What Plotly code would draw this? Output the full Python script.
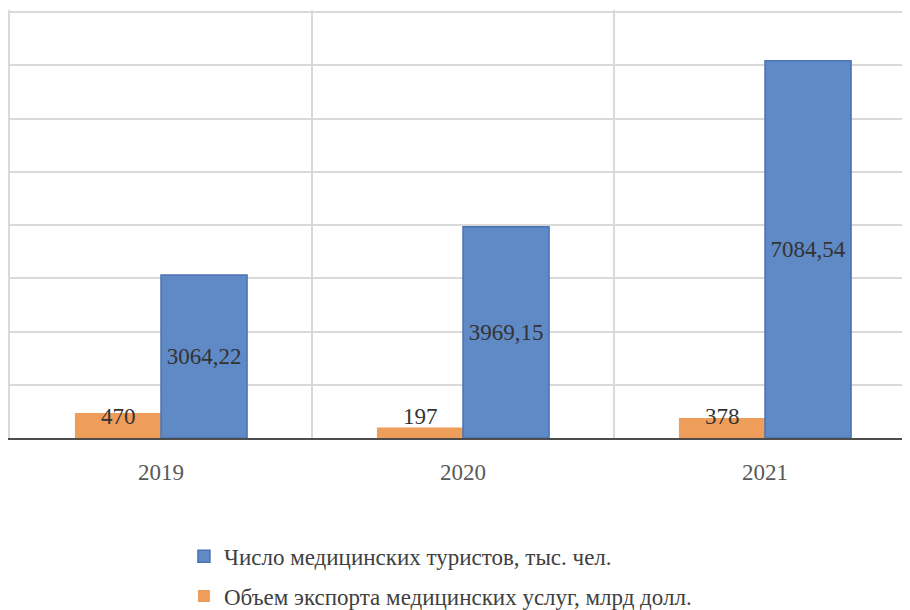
import plotly.graph_objects as go

years = ["2019", "2020", "2021"]
tourists = [3064.22, 3969.15, 7084.54]
exports = [470, 197, 378]
name_tourists = "Число медицинских туристов, тыс. чел."
name_exports = "Объем экспорта медицинских услуг, млрд долл."

BLUE = "#5F8AC6"
BLUE_EDGE = "#4A73B3"
ORANGE = "#EF9D5A"
GRID = "#D9D9D9"
TEXT = "#595959"
SERIF = "Liberation Serif, Times New Roman, serif"

fig = go.Figure()
fig.add_trace(go.Bar(
    x=years, y=exports, name=name_exports, legendgroup="b", legendrank=2,
    marker=dict(color=ORANGE, line=dict(width=0)),
))
fig.add_trace(go.Bar(
    x=years, y=tourists, name=name_tourists, legendgroup="a", legendrank=1,
    marker=dict(color=BLUE, line=dict(color=BLUE_EDGE, width=1.5)),
    text=[f"{v:.2f}".replace(".", ",") for v in tourists],
    textposition="inside", insidetextanchor="middle", constraintext="none",
    textangle=0, textfont=dict(family=SERIF, size=23, color="#333333"),
))

annotations = []
for i, v in enumerate(exports):
    annotations.append(dict(
        x=i, y=0, xref="x", yref="y", text=str(v), showarrow=False,
        xanchor="center", yanchor="bottom", xshift=-43, yshift=7,
        font=dict(family=SERIF, size=23, color="#333333"),
    ))

fig.update_layout(
    width=910, height=610,
    margin=dict(l=2, r=2, t=2, b=180, autoexpand=False),
    paper_bgcolor="white", plot_bgcolor="white",
    barmode="group", bargap=0.43, bargroupgap=0,
    separators=", ",
    showlegend=True,
    legend=dict(
        orientation="v", traceorder="grouped", tracegroupgap=7,
        x=0.192, xanchor="left", y=-0.226, yanchor="top",
        font=dict(family=SERIF, size=23, color="#404040"),
        bgcolor="rgba(0,0,0,0)",
    ),
    annotations=annotations,
    xaxis=dict(
        type="category", range=[-0.5, 2.5], showgrid=True, gridcolor=GRID,
        gridwidth=1.5, tickson="boundaries", ticks="", showline=True,
        linecolor="#4D4D4D", linewidth=2, ticklabelstandoff=12,
        tickfont=dict(family=SERIF, size=23, color=TEXT), zeroline=False,
    ),
    yaxis=dict(
        range=[0, 8040], dtick=1000, showgrid=True, gridcolor=GRID,
        gridwidth=1.5, showticklabels=False, zeroline=False, ticks="",
        showline=True, linecolor=GRID, linewidth=1.5, mirror=True,
    ),
)

fig.write_html("out.html")
